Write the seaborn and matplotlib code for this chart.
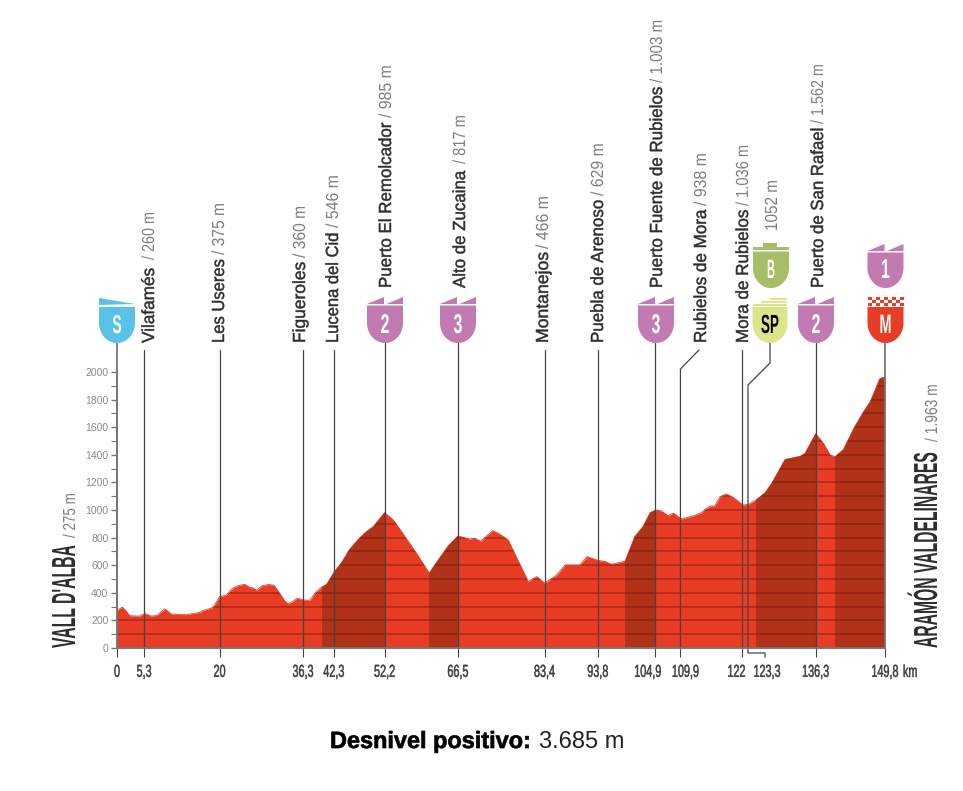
import numpy as np
import matplotlib
matplotlib.use('Agg')
import matplotlib.pyplot as plt
import matplotlib.patheffects as pe
from matplotlib.patches import Polygon, Rectangle
from matplotlib.transforms import Affine2D, ScaledTranslation
import seaborn as sns

# --- profile ---
km = [0, 1.04, 1.7, 2.47, 4.4, 5.4, 6.7, 7.8, 9.3, 10.6, 13.5, 14.8, 16.1, 16.8, 18.4, 19.0, 20, 21.3,
      22.6, 23.6, 24.9, 25.9, 26.5, 27.2, 28.3, 29.5, 30.6, 31.7, 32.7, 33.4, 34.3, 35.1, 36.3, 37.3,
      37.7, 38.6, 39.9, 40.9, 42.3, 43.8, 45.4, 47.1, 48.4, 50, 52.2, 53.9, 56.4, 58.4, 60.9, 62, 64.6,
      66.5, 68.8, 69.8, 70.9, 73.3, 74.7, 76.3, 78, 80.2, 81.9, 83.4, 85.8, 87.4, 90.3, 91.7, 93.9,
      95.2, 96.5, 99.1, 101, 102.6, 104, 105.1, 106.2, 107.5, 108.5, 110.1, 112.4, 114, 114.7, 115.7,
      116.6, 117.6, 118.8, 120.2, 122.1, 123.2, 124.8, 126.4, 127.7, 130.3, 133.3, 134.2, 136.3, 137.8,
      139.1, 140.1, 141.7, 143.7, 145.6, 146.9, 148.8, 149.8]
elev = [272, 296, 272, 234, 231, 250, 231, 236, 284, 246, 241, 250, 258, 272, 289, 308, 373, 383,
        434, 451, 462, 438, 436, 419, 451, 460, 455, 398, 342, 320, 337, 361, 349, 345,
        349, 398, 441, 462, 547, 619, 716, 788, 836, 880, 981, 928, 795, 687, 542, 603, 740,
        812, 790, 795, 774, 851, 824, 783, 651, 482, 518, 470, 530, 602, 602, 663, 634,
        627, 607, 629, 807, 880, 981, 1000, 993, 959, 978, 935, 957, 981, 1005, 1029,
        1029, 1096, 1116, 1092, 1036, 1041, 1077, 1125, 1193, 1366, 1390, 1410, 1554, 1482,
        1398, 1386, 1439, 1590, 1711, 1783, 1952, 1964]

# steep parts drawn darker
dark_from = [39.9, 60.9, 99.1, 124.6, 140.0]
dark_to = [52.2, 66.5, 104.9, 136.3, 149.8]

km_ticks = [0, 5.3, 20, 36.3, 42.3, 52.2, 66.5, 83.4, 93.8, 104.9, 109.9, 122, 123.3, 136.3, 149.8]
km_labels = ['0', '5,3', '20', '36,3', '42,3', '52,2', '66,5', '83,4', '93,8', '104,9', '109,9',
             '122', '123,3', '136,3', '149,8']
km_label_shift = [0, 0, 0, 0, 0, 0, 0, 0, 0, -7, 5, -6, 18, 0, 0]

place_names = ['Vilafamés', 'Les Useres', 'Figueroles', 'Lucena del Cid', 'Puerto El Remolcador',
               'Alto de Zucaina', 'Montanejos', 'Puebla de Arenoso', 'Puerto Fuente de Rubielos',
               'Rubielos de Mora', 'Mora de Rubielos', 'Puerto de San Rafael']
place_values = ['260 m', '375 m', '360 m', '546 m', '985 m', '817 m', '466 m', '629 m', '1.003 m',
                '938 m', '1.036 m', '1.562 m']
# picture pixels: baseline x, start of name, end of name, start and end of value
place_x = [154, 224, 305, 338, 391, 465, 548, 603, 662, 706, 748, 823]
place_y0 = [343, 343, 343, 343, 288, 288, 343, 343, 288, 343, 343, 288]
place_y1 = [268, 259, 262, 233, 123, 171, 252, 200, 87, 210, 210, 128]
value_y0 = [260, 255, 258, 228, 118, 164, 249, 196, 83, 206, 206, 124]
value_y1 = [212, 203, 206, 175, 65, 115, 196, 143, 20, 153, 145, 64]

W, H = 963, 791
X0, X1, Y0, Y2000 = 117, 885, 648, 372
RED, DARK = '#E83C24', '#B03219'
PURPLE, BLUE, GREEN, LIME = '#C27BB1', '#5BC2E7', '#A8BD68', '#DDE48A'
LINE, GREY = '#444444', '#8A8A8A'

sns.set_style('white')
plt.rcParams['font.family'] = ['Liberation Sans', 'DejaVu Sans']

fig = plt.figure(figsize=(W / 100, H / 100), dpi=100)
ax = fig.add_axes([X0 / W, (H - Y0) / H, (X1 - X0) / W, (Y0 - Y2000) / H])
px = Affine2D().scale(1, -1).translate(0, H)  # picture pixels, origin top left


def my(y):
    return (Y0 - y) * 2000 / (Y0 - Y2000)


def mx(x):
    return (x - X0) * 149.8 / (X1 - X0)


class Tall(pe.AbstractPathEffect):
    """Stretch glyphs up from the baseline, gives the condensed look of the poster font."""

    def __init__(self, sy, stroke=0):
        super().__init__()
        self.sy, self.stroke = sy, stroke

    def draw_path(self, renderer, gc, tpath, affine, rgbFace=None):
        gc0 = renderer.new_gc()
        gc0.copy_properties(gc)
        if self.stroke:
            gc0.set_linewidth(self.stroke)
            gc0.set_foreground(rgbFace)
        renderer.draw_path(gc0, tpath, Affine2D().scale(1, self.sy) + affine, rgbFace)
        gc0.restore()


# --- profile ---
sns.lineplot(x=km, y=elev, color=RED, lw=0.6, ax=ax, zorder=2)
body = ax.fill_between(km, 0, elev, color=RED, lw=0, zorder=1)
outline = body.get_paths()[0]
for a, b in zip(dark_from, dark_to):
    span = ax.axvspan(a, b, color=DARK, lw=0, zorder=2)
    span.set_clip_path(outline, ax.transData)
stripes = ax.hlines(np.arange(100, 2000, 100), 0, 149.8, color='#6E1405', alpha=0.42, lw=1.3, zorder=3)
stripes.set_clip_path(outline, ax.transData)

ax.set_xlim(0, 149.8)
ax.set_ylim(0, 2000)
sns.despine(ax=ax)
for s in ['left', 'bottom']:
    ax.spines[s].set_color('#777777')
    ax.spines[s].set_linewidth(1.3)
    ax.spines[s].set_zorder(6)

ax.set_yticks(np.arange(0, 2001, 200))
ax.set_yticks(np.arange(100, 2000, 200), minor=True)
ax.tick_params(axis='y', which='major', length=4.2, width=1, color='#777777', labelsize=7.5,
               labelcolor=GREY, pad=2, left=True)
ax.tick_params(axis='y', which='minor', length=4.2, width=0.8, color='#777777', left=True)
ax.set_xticks(km_ticks)
ax.set_xticklabels(km_labels)
ax.tick_params(axis='x', length=6.5, width=0.8, color=LINE, labelsize=7.8, labelcolor='#3c3c3c', pad=8.5,
               bottom=True)
ax.xaxis.get_major_ticks()[km_ticks.index(123.3)].tick1line.set_visible(False)
for lab, dx in zip(ax.get_xticklabels(), km_label_shift):
    lab.set_transform(lab.get_transform() + ScaledTranslation(dx / 100, 0, fig.dpi_scale_trans))
    lab.set_path_effects([Tall(1.6, 0.35)])
ax.text(903, 677, 'km', transform=px, fontsize=7.8, color='#3c3c3c', ha='left', va='baseline',
        path_effects=[Tall(1.6, 0.35)])

# --- vertical markers ---
for k in [5.3, 20, 36.3, 42.3, 122]:
    ax.plot([k, k], [0, my(350)], color=LINE, lw=0.9, clip_on=False, zorder=5)
for k in [52.2, 66.5, 83.4, 93.8, 104.9, 136.3]:
    top = my(343) if k in (52.2, 66.5, 104.9, 136.3) else my(350)
    ax.plot([k, k], [0, top], color=LINE, lw=0.9, clip_on=False, zorder=5)
for k in [0, 149.8]:
    ax.plot([k, k], [0, my(343)], color='#777777', lw=1.3, clip_on=False, zorder=5)
# bent leaders
ax.plot([109.9, 109.9, mx(699)], [0, my(369), my(350)], color=LINE, lw=0.9, clip_on=False, zorder=5)
ax.plot([mx(765), mx(765), mx(748), mx(748), mx(770), mx(770)],
        [my(657), my(653), my(653), my(385), my(363), my(343)],
        color=LINE, lw=0.9, clip_on=False, zorder=5)


# --- badges ---
def shield(cx, top, bottom, w, color, zorder=7):
    # straight sides then half an ellipse
    t = np.linspace(0, np.pi, 40)
    r = 20
    xs = np.r_[cx - w / 2, cx - w / 2 * np.cos(t), cx + w / 2]
    ys = np.r_[top, bottom - r + r * np.sin(t), top]
    ax.add_patch(Polygon(np.c_[xs, ys], closed=True, transform=px, fc=color, ec='none', zorder=zorder,
                         clip_on=False))


def poly(pts, color, zorder=7):
    ax.add_patch(Polygon(pts, closed=True, transform=px, fc=color, ec='none', zorder=zorder, clip_on=False))


def wedges(cx, y, w, color):
    # two small flags over the shield
    h = w / 2
    poly([(cx - h, y + 7), (cx - 1, y), (cx - 1, y + 7)], color)
    poly([(cx + 1.5, y + 7), (cx + h, y), (cx + h, y + 7)], color)


def letter(cx, y, s, size, sy, color='white'):
    ax.text(cx, y, s, transform=px, color=color, fontsize=size, fontweight='bold', ha='center', va='baseline',
            zorder=8, path_effects=[Tall(sy)], clip_on=False)


for cx, s in [(385, '2'), (458, '3'), (656, '3'), (816, '2')]:
    wedges(cx, 297, 36, PURPLE)
    shield(cx, 305.5, 343, 36, PURPLE)
    letter(cx, 333, s, 11.5, 1.7)
# start
poly([(99, 298), (135, 304), (99, 305)], BLUE)
shield(117, 307, 343, 36, BLUE)
letter(117, 333, 'S', 10, 1.85)
# top of the last climb
wedges(885.5, 244, 36, PURPLE)
shield(885.5, 252.5, 288, 36, PURPLE)
letter(885.5, 278, '1', 11.5, 1.7)
# finish, checker band
for i in range(9):
    for j in range(3):
        if (i + j) % 2 == 0:
            ax.add_patch(Rectangle((867.5 + i * 4, 297 + j * 3), 4, 3, transform=px, fc=RED, ec='none',
                                   zorder=7, clip_on=False))
shield(885.5, 307, 343, 36, RED)
letter(885.5, 333, 'M', 10.4, 1.85)
# bonus
poly([(753, 247), (763, 247), (763, 243), (777, 243), (777, 247), (789, 247), (789, 250), (753, 250)], GREEN)
shield(771, 251.5, 288, 36, GREEN)
letter(771, 278, 'B', 8, 2.4)
# sprint
for k, (a, b) in enumerate([(753, 787), (761, 787), (770, 787)]):
    ax.add_patch(Rectangle((a, 303.5 - k * 3), b - a, 2, transform=px, fc=LIME, ec='none', zorder=7,
                           clip_on=False))
shield(770, 307, 343, 35, LIME)
letter(770, 333, 'SP', 9.7, 1.95, color='black')

# --- rotated place names ---
fig.canvas.draw()
rend = fig.canvas.get_renderer()


def vtext(x, y0, y1, s, base, color, weight='normal', stroke=0):
    # size set so the text runs exactly from y0 to y1, height kept by the stretch
    t = ax.text(x, y0, s, transform=px, rotation=90, rotation_mode='anchor', ha='left', va='baseline',
                fontsize=base, fontweight=weight, color=color, clip_on=False)
    size = base * (y0 - y1) / t.get_window_extent(rend).height
    t.set_fontsize(size)
    t.set_path_effects([Tall(base / size, stroke)])


for i, n in enumerate(place_names):
    vtext(place_x[i], place_y0[i], place_y1[i], n, 12.6, '#2e2e2e', stroke=0.35)
    vtext(place_x[i], value_y0[i], value_y1[i], '/ ' + place_values[i], 12.6, '#808080')

vtext(777, 231, 180, '1052 m', 12.6, '#808080')

vtext(75, 648, 545, "VALL D'ALBA", 24, '#2e2e2e', weight='bold')
vtext(75, 538, 493, '/ 275 m', 12.5, '#808080')
vtext(937, 648, 452, 'ARAMÓN VALDELINARES', 24, '#2e2e2e', weight='bold')
vtext(937, 442, 384, '/ 1.963 m', 12.5, '#808080')

# --- footer ---
ax.text(330, 748, 'Desnivel positivo:', transform=px, fontsize=16.9, fontweight='bold', color='black',
        ha='left', va='baseline', clip_on=False, path_effects=[Tall(1.0, 0.5)])
ax.text(539, 748, '3.685 m', transform=px, fontsize=17, color='#222222', ha='left', va='baseline',
        clip_on=False)

fig.savefig('out.png', dpi=100)
